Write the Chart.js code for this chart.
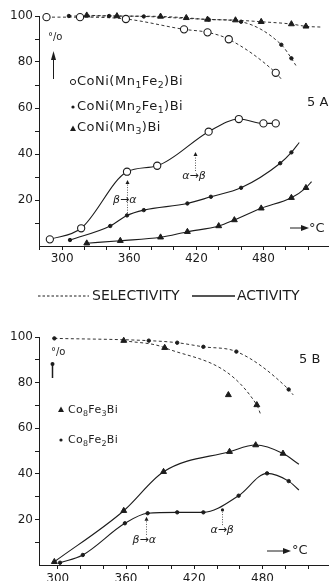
<!DOCTYPE html>
<html>
<head>
<meta charset="utf-8">
<script src="https://cdn.jsdelivr.net/npm/chart.js@4.4.1/dist/chart.umd.min.js"></script>
<style>
  html, body { margin: 0; padding: 0; background: #fff; }
  #wrap { position: relative; width: 333px; height: 581px; overflow: hidden; font-family: "DejaVu Sans", sans-serif; color: #1c1c1c; }
  canvas { position: absolute; left: 0; }
  #chartA { top: 0; }
  #chartB { top: 320px; }
  .t { position: absolute; white-space: nowrap; line-height: 1; }
  .t sub { font-size: 72%; vertical-align: -0.35em; line-height: 0; }
  .leg { font-size: 13px; letter-spacing: 0.5px; }
  .legB { font-size: 11px; letter-spacing: 0.3px; }
  svg { position: absolute; left: 0; top: 0; }
</style>
</head>
<body>
<div id="wrap">
  <canvas id="chartA" width="333" height="290"></canvas>
  <canvas id="chartB" width="333" height="261"></canvas>

  <svg width="333" height="581" viewBox="0 0 333 581">
    <g stroke="#1c1c1c" fill="#1c1c1c" stroke-width="1">
      <!-- panel A: % arrow, legend markers, degree arrow -->
      <line x1="53.5" y1="79" x2="53.5" y2="56" />
      <polygon points="51,60 53.5,51 56,60" stroke="none" />
      <circle cx="73" cy="82" r="2.6" fill="#fff" />
      <circle cx="73" cy="107" r="1.6" stroke="none" />
      <polygon points="70,131 73,125.5 76,131" stroke="none" />
      <line x1="290" y1="228" x2="303" y2="228" />
      <polygon points="301,225 309,228 301,231" stroke="none" />
      <!-- line style key -->
      <line x1="38" y1="296" x2="89" y2="296" stroke-dasharray="2.5,2" />
      <line x1="192" y1="296" x2="235" y2="296" stroke-width="1.4" />
      <!-- panel B: % arrow, legend markers, degree arrow -->
      <line x1="52.5" y1="364" x2="52.5" y2="378" stroke-width="1.5" />
      <circle cx="52.5" cy="364" r="2" stroke="none" />
      <polygon points="58,412 61,406.5 64,412" stroke="none" />
      <circle cx="61" cy="440" r="1.6" stroke="none" />
      <line x1="267" y1="551" x2="284" y2="551" />
      <polygon points="283,548 291,551 283,554" stroke="none" />
    </g>
  </svg>

  <div class="t" style="left:48px; top:32px; font-size:10px;">°/o</div>
  <div class="t leg" style="left:77px; top:74px;">CoNi(Mn<sub>1</sub>Fe<sub>2</sub>)Bi</div>
  <div class="t leg" style="left:77px; top:99px;">CoNi(Mn<sub>2</sub>Fe<sub>1</sub>)Bi</div>
  <div class="t leg" style="left:77px; top:120px;">CoNi(Mn<sub>3</sub>)Bi</div>
  <div class="t" style="left:307px; top:95px; font-size:13px;">5 A</div>
  <div class="t" style="left:309px; top:221px; font-size:13px;">°C</div>

  <div class="t" style="left:92px; top:288px; font-size:14px;">SELECTIVITY</div>
  <div class="t" style="left:237px; top:288px; font-size:14px;">ACTIVITY</div>

  <div class="t" style="left:51px; top:347px; font-size:10px;">°/o</div>
  <div class="t" style="left:299px; top:352px; font-size:13px;">5 B</div>
  <div class="t legB" style="left:68px; top:404px;">Co<sub>8</sub>Fe<sub>3</sub>Bi</div>
  <div class="t legB" style="left:68px; top:434px;">Co<sub>8</sub>Fe<sub>2</sub>Bi</div>
  <div class="t" style="left:292px; top:543px; font-size:13px;">°C</div>
</div>

<script>
// Fig. 5A – CoNi(Mn,Fe)Bi catalysts, temperatures in °C, values in %
const tA_mn1fe2Sel = [286, 316, 357, 409, 430, 449, 491];
const vA_mn1fe2Sel = [99.5, 99.5, 98.7, 94.2, 92.9, 89.9, 75.3];
const tailA_mn1fe2Sel = [[497, 72]];

const tA_mn1fe2Act = [289, 317, 358, 385, 431, 458, 480, 491];
const vA_mn1fe2Act = [2.9, 7.7, 32.3, 34.9, 49.7, 55.2, 53.3, 53.3];

const tA_mn2fe1Sel = [306, 342, 373, 431, 460, 496, 505];
const vA_mn2fe1Sel = [100, 100, 99.8, 98.5, 97.5, 87.5, 81.6];
const tailA_mn2fe1Sel = [[509, 78.5]];

const tA_mn2fe1Act = [307, 343, 358, 373, 412, 433, 460, 495, 505];
const vA_mn2fe1Act = [2.6, 8.7, 13.3, 15.6, 18.5, 21.4, 25.3, 36, 40.7];
const tailA_mn2fe1Act = [[512, 45]];

const tA_mn3Sel = [322, 349, 388, 411, 430, 455, 478, 505, 518];
const vA_mn3Sel = [100.3, 100, 99.8, 99.2, 98.5, 98.2, 97.5, 96.5, 95.5];
const tailA_mn3Sel = [[531, 95.2]];

const tA_mn3Act = [322, 352, 388, 412, 440, 454, 478, 505, 518];
const vA_mn3Act = [1.2, 2.3, 3.8, 6.2, 8.7, 11.3, 16.4, 21, 25.3];
const tailA_mn3Act = [[523, 28]];

// Fig. 5B – Co8Fe(x)Bi catalysts
const tB_fe3Sel = [358, 394, 475];
const vB_fe3Sel = [98.4, 95.3, 70.2];
const tailB_fe3Sel = [[478, 66.5]];
const tB_fe3SelStray = [450];
const vB_fe3SelStray = [74.6];

const tB_fe3Act = [297, 358, 393, 451, 474, 498];
const vB_fe3Act = [1.4, 23.8, 40.9, 49.7, 52.6, 48.9];
const tailB_fe3Act = [[512, 44.2]];

const tB_fe2Sel = [297, 380, 405, 428, 457, 503];
const vB_fe2Sel = [99.4, 98.4, 97.5, 95.7, 93.6, 77];
const tailB_fe2Sel = [[507, 74.6]];

const tB_fe2Act = [302, 322, 359, 379, 405, 428, 459, 484, 503];
const vB_fe2Act = [1.0, 4.4, 18.3, 22.7, 23.1, 23.1, 30.4, 40.2, 36.8];
const tailB_fe2Act = [[512, 32.9]];

// axis tick labels
const tempLabels = [300, 360, 420, 480];
const pctLabels = [20, 40, 60, 80, 100];

// phase transition marks (temperature, value span, text position)
const phaseA = [
  { t: 358, from: 14.3, to: 28.7, text: 'β→α', tt: 356, tv: 20 },
  { t: 419, from: 32.6, to: 40.9, text: 'α→β', tt: 418, tv: 30.4 }
];
const phaseB = [
  { t: 378, from: 13.2, to: 21.2, text: 'β→α', tt: 376, tv: 11 },
  { t: 444, from: 17.5, to: 24.6, text: 'α→β', tt: 444.5, tv: 15.4, dot: true }
];

const INK = '#1c1c1c';

function pts(ts, vs, tail) {
  const out = ts.map((t, i) => ({ x: t, y: vs[i] }));
  (tail || []).forEach(p => out.push({ x: p[0], y: p[1], tail: true }));
  return out;
}

function series(data, marker, dashed) {
  const base = {
    data: data,
    borderColor: INK,
    borderWidth: dashed ? 0.9 : 1.1,
    borderDash: dashed ? [3, 2.5] : [],
    cubicInterpolationMode: 'monotone',
    showLine: true,
    clip: false,
    pointBorderColor: INK,
    pointBorderWidth: 1,
    pointHoverRadius: 0
  };
  let r = 3.5;
  if (marker === 'circle') {
    base.pointStyle = 'circle';
    base.pointBackgroundColor = '#fff';
    base.pointBorderWidth = 1.1;
    r = 3.6;
  } else if (marker === 'dot') {
    base.pointStyle = 'circle';
    base.pointBackgroundColor = INK;
    r = 1.7;
  } else {
    base.pointStyle = 'triangle';
    base.pointBackgroundColor = INK;
    r = 3.4;
  }
  base.pointRadius = ctx => (ctx.raw && ctx.raw.tail ? 0 : r);
  return base;
}

const phasePlugin = {
  id: 'phaseMarks',
  afterDatasetsDraw(chart, args, opts) {
    const ctx = chart.ctx;
    const xs = chart.scales.x, ys = chart.scales.y;
    ctx.save();
    (opts.marks || []).forEach(m => {
      const x = Math.round(xs.getPixelForValue(m.t)) + 0.5;
      const y0 = ys.getPixelForValue(m.from);
      const y1 = ys.getPixelForValue(m.to);
      ctx.strokeStyle = '#555';
      ctx.lineWidth = 1;
      ctx.setLineDash([1, 1.5]);
      ctx.beginPath();
      ctx.moveTo(x, y0);
      ctx.lineTo(x, y1 + 3);
      ctx.stroke();
      ctx.setLineDash([]);
      ctx.fillStyle = INK;
      ctx.beginPath();
      if (m.dot) {
        ctx.arc(x, y1 + 1, 1.6, 0, Math.PI * 2);
      } else {
        ctx.moveTo(x - 2, y1 + 4);
        ctx.lineTo(x, y1);
        ctx.lineTo(x + 2, y1 + 4);
        ctx.closePath();
      }
      ctx.fill();
      ctx.font = 'italic 11px "DejaVu Sans"';
      ctx.textAlign = 'center';
      ctx.textBaseline = 'middle';
      ctx.fillText(m.text, xs.getPixelForValue(m.tt), ys.getPixelForValue(m.tv));
    });
    ctx.restore();
  }
};

// regular ticks every `step`, without the odd axis end values
function evenTicks(step) {
  return s => {
    const out = [];
    for (let v = Math.ceil(s.min / step) * step; v <= s.max; v += step) {
      if (v > 0) out.push({ value: v });
    }
    s.ticks = out;
  };
}

function axes(xMin, xMax, yAxisW, xAxisH, xPad) {
  const tickFont = { family: 'DejaVu Sans', size: 12 };
  return {
    x: {
      type: 'linear',
      min: xMin,
      max: xMax,
      afterBuildTicks: evenTicks(20),
      afterFit: s => { s.height = xAxisH; },
      ticks: {
        autoSkip: false,
        maxRotation: 0,
        padding: xPad,
        color: INK,
        font: tickFont,
        callback: v => (tempLabels.includes(v) ? String(v) : '')
      },
      grid: { display: true, drawOnChartArea: false, drawTicks: true, tickLength: 4, color: INK },
      border: { display: true, color: INK, width: 1 }
    },
    y: {
      type: 'linear',
      min: 0,
      max: 100,
      afterBuildTicks: evenTicks(10),
      afterFit: s => { s.width = yAxisW; },
      ticks: {
        autoSkip: false,
        padding: 2,
        color: INK,
        font: tickFont,
        callback: v => (pctLabels.includes(v) ? String(v) : '')
      },
      grid: { display: true, drawOnChartArea: false, drawTicks: true, tickLength: 4, color: INK },
      border: { display: true, color: INK, width: 1 }
    }
  };
}

function makeChart(id, datasets, marks, xMin, xMax, padTop, xAxisH, xPad) {
  return new Chart(document.getElementById(id), {
    type: 'scatter',
    data: { datasets: datasets },
    options: {
      responsive: false,
      animation: false,
      devicePixelRatio: 1,
      events: [],
      layout: { padding: { top: padTop, right: 0, left: 0, bottom: 0 } },
      scales: axes(xMin, xMax, 39, xAxisH, xPad),
      plugins: {
        legend: { display: false },
        tooltip: { enabled: false },
        phaseMarks: { marks: marks }
      }
    },
    plugins: [phasePlugin]
  });
}

function initCharts() {
  makeChart('chartA', [
    series(pts(tA_mn1fe2Sel, vA_mn1fe2Sel, tailA_mn1fe2Sel), 'circle', true),
    series(pts(tA_mn2fe1Sel, vA_mn2fe1Sel, tailA_mn2fe1Sel), 'dot', true),
    series(pts(tA_mn3Sel, vA_mn3Sel, tailA_mn3Sel), 'triangle', true),
    series(pts(tA_mn1fe2Act, vA_mn1fe2Act), 'circle', false),
    series(pts(tA_mn2fe1Act, vA_mn2fe1Act, tailA_mn2fe1Act), 'dot', false),
    series(pts(tA_mn3Act, vA_mn3Act, tailA_mn3Act), 'triangle', false)
  ], phaseA, 279.3, 538, 16, 44, 2);

  const stray = series(pts(tB_fe3SelStray, vB_fe3SelStray), 'triangle', true);
  stray.showLine = false;

  makeChart('chartB', [
    series(pts(tB_fe2Sel, vB_fe2Sel, tailB_fe2Sel), 'dot', true),
    series(pts(tB_fe3Sel, vB_fe3Sel, tailB_fe3Sel), 'triangle', true),
    stray,
    series(pts(tB_fe3Act, vB_fe3Act, tailB_fe3Act), 'triangle', false),
    series(pts(tB_fe2Act, vB_fe2Act, tailB_fe2Act), 'dot', false)
  ], phaseB, 283.5, 538.1, 17, 16, 3);
}

document.addEventListener('DOMContentLoaded', initCharts);
</script>
</body>
</html>
